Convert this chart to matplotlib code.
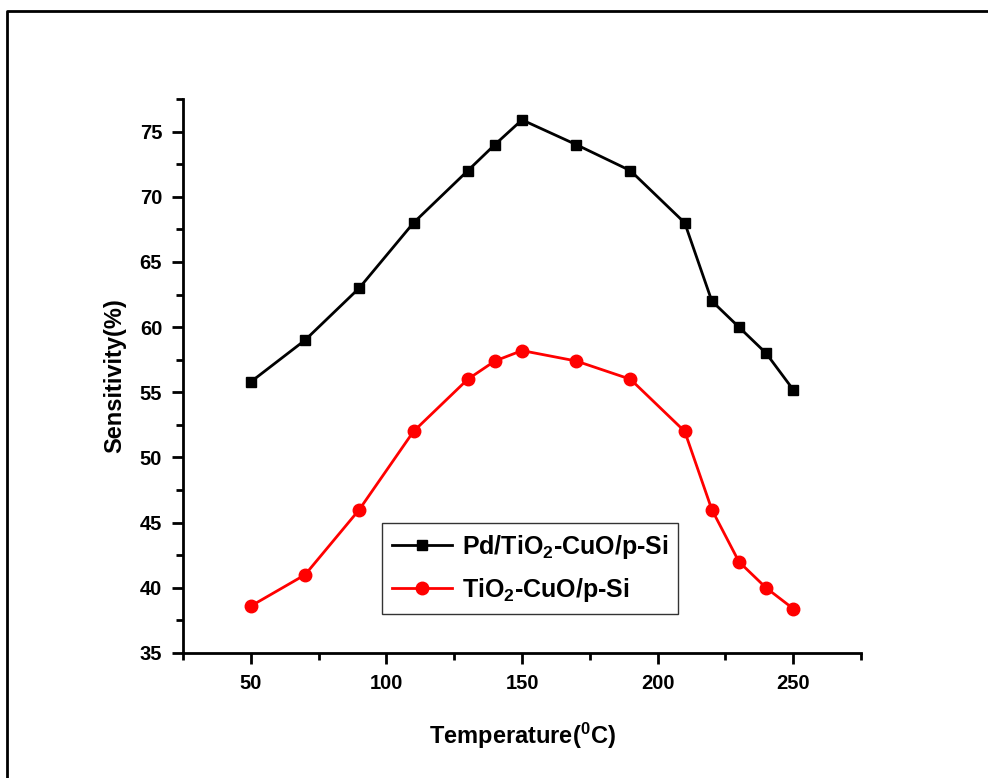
import numpy as np
import matplotlib
matplotlib.use('Agg')
import matplotlib.pyplot as plt
from matplotlib.lines import Line2D
from matplotlib.ticker import MultipleLocator

plt.rcParams['font.family'] = ['Liberation Sans', 'DejaVu Sans']
plt.rcParams['font.weight'] = 'bold'
plt.rcParams['mathtext.fontset'] = 'custom'
plt.rcParams['mathtext.rm'] = 'Liberation Sans:bold'
plt.rcParams['mathtext.it'] = 'Liberation Sans:bold'
plt.rcParams['mathtext.bf'] = 'Liberation Sans:bold'

# Temperatura (C) y sensibilidad (%)
temperatura = [50, 70, 90, 110, 130, 140, 150, 170, 190, 210, 220, 230, 240, 250]
pd_tio2 = [55.8, 59, 63, 68, 72, 74, 75.9, 74, 72, 68, 62, 60, 58, 55.2]
tio2 = [38.6, 41, 46, 52, 56, 57.4, 58.2, 57.4, 56, 52, 46, 42, 40, 38.4]

fig = plt.figure(figsize=(9.88, 7.78), dpi=100)
ax = fig.add_axes([183/988, 125/778, (861-183)/988, (653-99)/778])

ax.plot(temperatura, pd_tio2, color='black', lw=2, marker='s', ms=7,
        label='Pd/TiO$_2$-CuO/p-Si')
ax.plot(temperatura, tio2, color='red', lw=2, marker='o', ms=9,
        label='TiO$_2$-CuO/p-Si')

ax.set_xlim(25, 275)
ax.set_ylim(35, 77.5)
ax.xaxis.set_major_locator(MultipleLocator(50))
ax.xaxis.set_minor_locator(MultipleLocator(25))
ax.yaxis.set_major_locator(MultipleLocator(5))
ax.yaxis.set_minor_locator(MultipleLocator(2.5))

for s in ['top', 'right']:
    ax.spines[s].set_visible(False)
for s in ['left', 'bottom']:
    ax.spines[s].set_linewidth(2)
ax.tick_params(which='major', direction='out', length=8, width=2, labelsize=14.5, pad=7)
ax.tick_params(which='minor', direction='out', length=5, width=2)

ax.set_xlabel('Temperature($^{0}$C)', fontsize=17, fontweight='bold', labelpad=20)
ax.set_ylabel('Sensitivity(%)', fontsize=17, fontweight='bold', labelpad=10)

leg = ax.legend(loc='upper left', bbox_to_anchor=(0.293, 0.235), fontsize=18,
                frameon=True, fancybox=False, edgecolor='black', handlelength=2.4,
                handletextpad=0.4, borderpad=0.4, labelspacing=0.6, borderaxespad=0)
leg.get_frame().set_linewidth(1)

# marco de la figura
fig.add_artist(Line2D([7/988, 7/988, 1], [0, 1 - 11/778, 1 - 11/778],
                      color='black', lw=2, transform=fig.transFigure))

fig.savefig('out.png', dpi=100)
